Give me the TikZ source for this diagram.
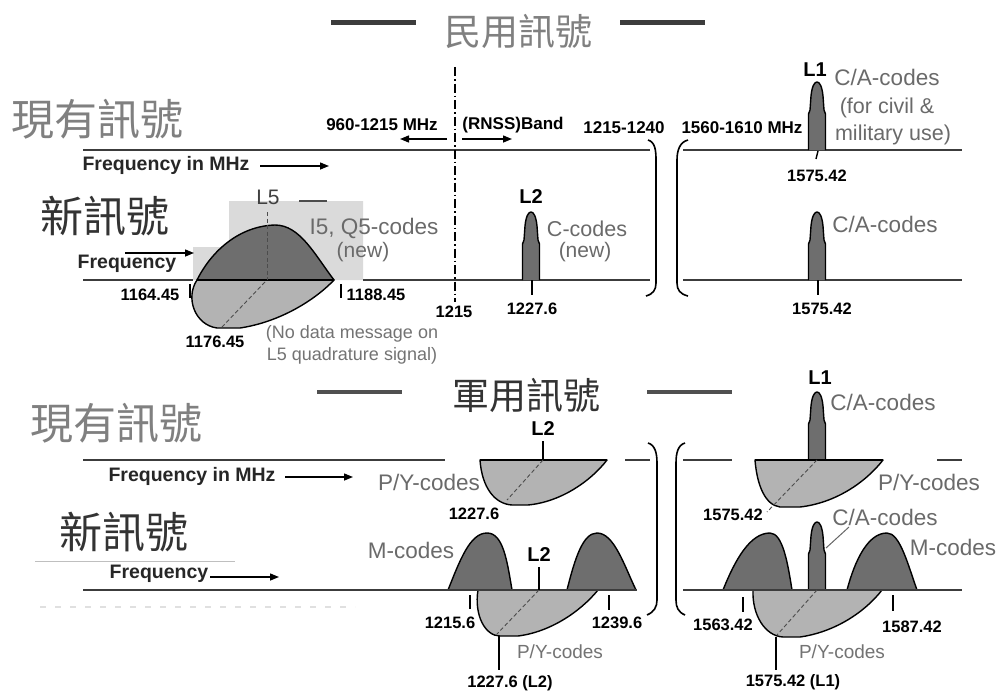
\documentclass[tikz,border=0pt]{standalone}
\usepackage{fontspec}
\setmainfont{Liberation Sans}
\newfontfamily\cjkfont{Noto Sans CJK TC}
\usetikzlibrary{arrows.meta}
\definecolor{darkfill}{HTML}{6E6E6E}
\definecolor{lightfill}{HTML}{B3B3B3}
\definecolor{boxgray}{HTML}{DADADA}
\definecolor{labgray}{HTML}{6A6A6A}
\definecolor{cjkgray}{HTML}{808080}
\definecolor{cjkdark}{HTML}{333333}
\definecolor{axisc}{HTML}{3C3C3C}
\newcommand\setfs[1]{\fontsize{#1}{#1}\selectfont}
\begin{document}
\begin{tikzpicture}[x=1pt,y=-1pt,
  axisln/.style={draw=axisc,line width=2pt},
  outl/.style={draw=black,line width=1.4pt,line join=round},
  num/.style={inner sep=0pt,font=\bfseries\setfs{16.5}},
  bandtxt/.style={inner sep=0pt,font=\bfseries\setfs{17}},
  freq/.style={inner sep=0pt,font=\bfseries\setfs{19.5},text=black!85},
  glab/.style={inner sep=0pt,font=\setfs{22.5},text=labgray},
  slab/.style={inner sep=0pt,font=\setfs{18},text=black!55},
  lname/.style={inner sep=0pt,font=\bfseries\setfs{20}},
  cjkbig/.style={inner sep=0pt,font=\cjkfont\setfs{43}},
  cjkmid/.style={inner sep=0pt,font=\cjkfont\setfs{37}},
  tk/.style={draw=black,line width=1.4pt},
  arr/.style={draw=black,line width=1.4pt,-{Triangle[length=9pt,width=7pt]}},
  titleln/.style={draw=axisc,line width=5pt},
  diag/.style={draw=black!70,line width=0.9pt,dash pattern=on 4pt off 2.5pt},
  brk/.style={draw=black,line width=1.6pt},
  capeak/.pic={\path[outl,fill=darkfill] (-8.5,0) -- (-8.5,-36) -- (-7,-40) -- (-6,-54)
     .. controls (-5,-64) and (-2.5,-68) .. (0,-68) .. controls (2.5,-68) and (5,-64) .. (6,-54)
     -- (7,-40) -- (8.5,-36) -- (8.5,0);}
]
\useasboundingbox (0,0) rectangle (998,693);
\fill[white] (0,0) rectangle (998,693);

% ===== titles =====
\node[cjkmid,text=cjkgray] (civtitle) at (518,31) {民用訊號};
\draw[titleln] (331,23) -- (416,23);
\draw[titleln] (620,23) -- (705,23);
\node[cjkmid,text=cjkdark] (miltitle) at (526,395) {軍用訊號};
\draw[titleln,line width=4pt,draw=axisc!90] (317,392) -- (402,392);
\draw[titleln,line width=4pt,draw=axisc!90] (647,392) -- (732,392);

\node[cjkbig,text=cjkgray] (exist1) at (97,119) {現有訊號};
\node[cjkbig,text=cjkdark] (new1) at (105,216) {新訊號};
\node[cjkbig,text=cjkgray] (exist2) at (116,423) {現有訊號};
\node[cjkbig,text=cjkdark] (new2) at (124,532) {新訊號};
\draw[black!25,line width=0.8pt] (35,561) -- (235,561);
\draw[black!12,line width=1.5pt,dash pattern=on 6pt off 9pt] (40,607) -- (355,607);

% ===== top section: existing civil =====
\draw[axisln] (83,150) -- (650,150);
\draw[axisln] (683,150) -- (962,150);
\node[freq] (fq1) at (166,165) {Frequency in MHz};
\coordinate (fq1s) at (260,166); \coordinate (fq1e) at (329,166);
\draw[arr] (fq1s) -- (fq1e);
\node[bandtxt] (b960) at (382,125) {960-1215 MHz};
\node[bandtxt] (brnss) at (513,125) {(RNSS)Band};
\node[bandtxt] (b1215) at (624,128) {1215-1240};
\node[bandtxt] (b1560) at (742,128) {1560-1610 MHz};
\coordinate (rl0) at (447,139); \coordinate (rl1) at (400,139);
\coordinate (rr0) at (462,139); \coordinate (rr1) at (512,139);
\draw[arr] (rl0) -- (rl1);
\draw[arr] (rr0) -- (rr1);
\coordinate (dd0) at (455,67); \coordinate (dd1) at (455,302);
\draw[black,line width=1.3pt,dash pattern=on 9pt off 3pt on 1.5pt off 3pt] (dd0) -- (dd1);

\pic at (817,150) {capeak};
\node[lname] (l1a) at (815,70) {L1};
\node[glab] (ca1) at (887,77) {C/A-codes};
\node[glab,font=\setfs{21.5}] (ca1b) at (887,108) {(for civil \&};
\node[glab,font=\setfs{21.5}] (ca1c) at (893,135) {military use)};
\draw[tk] (818,151) -- (816,159);
\node[num] (n1575a) at (817,176) {1575.42};

% brackets top
\draw[brk] (648,140) .. controls (655,142) and (656,150) .. (656,160) -- (656,283) .. controls (656,290) and (653,294) .. (646,296);
\draw[brk] (688,140) .. controls (680,142) and (677,150) .. (677,160) -- (677,283) .. controls (677,290) and (680,294) .. (688,296);

% ===== top section: new civil =====
\fill[boxgray] (193,247) -- (229,247) -- (229,201) -- (363,201) -- (363,280) -- (193,280) -- cycle;
\draw[axisln] (83,280) -- (193,280);
\draw[axisln] (363,280) -- (650,280);
\draw[axisln] (683,280) -- (962,280);
\node[freq] (fq2) at (127,264) {Frequency};
\coordinate (fq2s) at (125,253); \coordinate (fq2e) at (194,253);
\draw[arr] (fq2s) -- (fq2e);

\path[outl,fill=darkfill] (197,280) .. controls (212,250) and (240,226) .. (275,225) .. controls (300,225) and (315,255) .. (334,280) -- cycle;
\path[outl,fill=lightfill] (197,280) .. controls (185,298) and (195,325) .. (217,328) -- (240,328) .. controls (280,322) and (315,300) .. (334,280) -- cycle;
\draw[black,line width=2pt] (197,280) -- (334,280);
\draw[diag] (267,212) -- (267,280);
\draw[diag] (265,282) -- (222,327);
\node[inner sep=0pt,font=\setfs{21},text=black!75] (l5) at (268,197) {L5};
\draw[black!70,line width=2pt] (299,201) -- (327,201);
\node[glab] (i5q5) at (374,228) {I5, Q5-codes};
\node[glab,font=\setfs{21}] (new5) at (363,252) {(new)};
\draw[tk] (190,284) -- (190,298);
\node[num] (n1164) at (150,295) {1164.45};
\draw[tk] (341,284) -- (341,298);
\node[num] (n1188) at (376,295) {1188.45};
\node[num] (n1176) at (215,342) {1176.45};
\node[slab] (nodata1) at (352,334) {(No data message on};
\node[slab] (nodata2) at (352,356) {L5 quadrature signal)};
\node[num] (n1215) at (454,312) {1215};

\pic at (531,280) {capeak};
\node[lname] (l2a) at (531,197) {L2};
\node[glab,font=\setfs{21.5}] (ccode) at (587,229) {C-codes};
\node[glab,font=\setfs{21}] (cnew) at (585,252) {(new)};
\draw[tk] (532,280) -- (532,295);
\node[num] (n1227a) at (532,309) {1227.6};

\pic at (817,280) {capeak};
\node[glab] (ca2) at (885,224) {C/A-codes};
\draw[tk] (818,280) -- (818,295);
\node[num] (n1575b) at (822,309) {1575.42};

% ===== bottom section: existing military =====
\draw[axisln] (83,460) -- (445,460);
\draw[axisln] (625,460) -- (650,460);
\draw[axisln] (683,460) -- (732,460);
\draw[axisln] (937,460) -- (962,460);
\node[freq] (fq3) at (192,476) {Frequency in MHz};
\coordinate (fq3s) at (285,477); \coordinate (fq3e) at (353,477);
\draw[arr] (fq3s) -- (fq3e);

\path[outl,fill=lightfill] (480,460) .. controls (482,488) and (495,504) .. (512,505) -- (528,505) .. controls (560,502) and (590,482) .. (607,460) -- cycle;
\draw[black,line width=2pt] (480,460) -- (607,460);
\draw[diag] (543,460) -- (507,500);
\begin{scope}
\clip (500,420) rectangle (600,450);
\node[lname] (l2b) at (543,429) {L2};
\end{scope}
\draw[tk] (543,441) -- (543,460);
\node[glab] (py1) at (429,482) {P/Y-codes};
\node[num] (n1227b) at (474,514) {1227.6};

\pic at (817,460) {capeak};
\path[outl,fill=lightfill] (755,460) .. controls (757,485) and (765,505) .. (780,507) -- (800,507) .. controls (835,503) and (865,483) .. (883,460) -- cycle;
\draw[black,line width=2pt] (755,460) -- (883,460);
\draw[diag] (817,460) -- (767,512);
\node[lname] (l1b) at (820,378) {L1};
\node[glab] (ca3) at (883,402) {C/A-codes};
\node[glab] (py2) at (929,482) {P/Y-codes};
\node[num] (n1575c) at (733,515) {1575.42};

% brackets bottom
\draw[brk] (648,443) .. controls (655,445) and (657,453) .. (657,463) -- (657,600) .. controls (657,607) and (654,612) .. (647,615);
\draw[brk] (685,443) .. controls (678,445) and (676,453) .. (676,463) -- (676,600) .. controls (676,607) and (678,612) .. (685,615);

% ===== bottom section: new military =====
\node[freq] (fq4) at (159,574) {Frequency};
\coordinate (fq4s) at (210,577); \coordinate (fq4e) at (279,577);
\draw[arr] (fq4s) -- (fq4e);

\path[outl,fill=darkfill] (448,590) .. controls (460,560) and (470,533) .. (487,533) .. controls (503,533) and (507,560) .. (512,590) -- cycle;
\path[outl,fill=darkfill] (567,590) .. controls (575,558) and (583,533) .. (597,533) .. controls (614,533) and (624,565) .. (636,590) -- cycle;
\path[outl,fill=lightfill] (478,590) .. controls (474,615) and (485,636) .. (500,636) -- (518,636) .. controls (550,632) and (580,612) .. (598,590) -- cycle;
\draw[axisln] (83,590) -- (637,590);
\draw[diag] (539,590) -- (497,634);
\node[lname] (l2c) at (539,555) {L2};
\draw[tk] (539,567) -- (539,590);
\node[glab] (mc1) at (411,550) {M-codes};
\draw[tk] (470,595) -- (470,609);
\node[num] (n1215b) at (450,623) {1215.6};
\draw[tk] (609,595) -- (609,610);
\node[num] (n1239) at (617,623) {1239.6};
\node[slab,font=\setfs{19}] (py3) at (560,652) {P/Y-codes};
\draw[tk] (499,636) -- (499,670);
\node[num] (n1227c) at (510,683) {1227.6 (L2)};

\path[outl,fill=darkfill] (723,590) .. controls (735,560) and (750,533) .. (770,533) .. controls (783,533) and (788,565) .. (792,590) -- cycle;
\path[outl,fill=darkfill] (847,590) .. controls (855,560) and (868,533) .. (887,533) .. controls (900,533) and (908,565) .. (917,590) -- cycle;
\pic at (817,590) {capeak};
\path[outl,fill=lightfill] (753,590) .. controls (752,615) and (765,636) .. (783,637) -- (800,637) .. controls (835,632) and (865,612) .. (882,590) -- cycle;
\draw[axisln] (683,590) -- (962,590);
\draw[diag] (817,590) -- (777,635);
\node[glab] (ca4) at (885,517) {C/A-codes};
\coordinate (ld0) at (826,548); \coordinate (ld1) at (849,527);
\draw[black!60,line width=1pt] (ld0) -- (ld1);
\node[glab] (mc2) at (953,547) {M-codes};
\draw[tk] (743,597) -- (743,612);
\node[num] (n1563) at (723,625) {1563.42};
\draw[tk] (893,595) -- (893,611);
\node[num] (n1587) at (912,627) {1587.42};
\node[slab,font=\setfs{19}] (py4) at (842,652) {P/Y-codes};
\draw[tk] (776,637) -- (776,670);
\node[num] (n1575d) at (793,682) {1575.42 (L1)};
\end{tikzpicture}
\end{document}
